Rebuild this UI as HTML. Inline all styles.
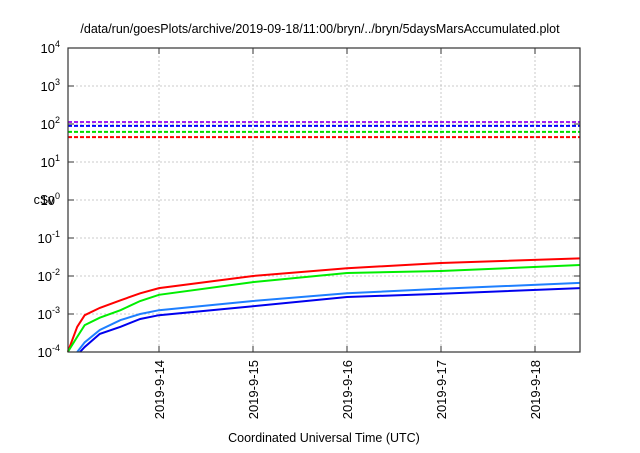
<!DOCTYPE html>
<html><head><meta charset="utf-8"><style>
body{margin:0;background:#fff;}
svg text{font-family:"Liberation Sans",sans-serif;fill:#000;}
</style></head><body>
<svg width="640" height="448">
<text x="320" y="33" font-size="12.5" text-anchor="middle">/data/run/goesPlots/archive/2019-09-18/11:00/bryn/../bryn/5daysMarsAccumulated.plot</text>
<g id="grid"></g>
<g id="marks"></g>
<rect x="68" y="48" width="512" height="304" fill="none" stroke="#333" stroke-width="1.2"/>
<g id="axes"></g>
<text x="44" y="204" font-size="12.5" text-anchor="middle">cSv</text>
<text x="324" y="442" font-size="12.5" text-anchor="middle">Coordinated Universal Time (UTC)</text>
</svg>
<script>
const yExponents=[-4,-3,-2,-1,0,1,2,3,4];
const xTickDays=[1,2,3,4,5];
const xTickLabels=["2019-9-14","2019-9-15","2019-9-16","2019-9-17","2019-9-18"];
const limitNames=["purple-limit","blue-limit","green-limit","red-limit"];
const limitValues=[113,89,62,45];
const limitColors=["#a020f0","#0000ff","#00dd00","#ff0000"];
const days=[0.03,0.13,0.21,0.37,0.59,0.80,1,2,3,4,5.48];
const redVals=[1e-4,4.6e-4,9.3e-4,0.00145,0.0023,0.0035,0.0048,0.010,0.016,0.022,0.029];
const greenVals=[1e-4,2.5e-4,5.1e-4,8e-4,0.00126,0.0022,0.0032,0.0069,0.012,0.0135,0.0195];
const lightBlueDays=[0.13,0.21,0.37,0.59,0.80,1,2,3,4,5.48];
const lightBlueVals=[1e-4,1.8e-4,3.8e-4,6.9e-4,0.001,0.00126,0.0022,0.0035,0.0046,0.0066];
const darkBlueDays=[0.16,0.21,0.37,0.59,0.80,1,2,3,4,5.48];
const darkBlueVals=[1e-4,1.35e-4,3e-4,4.6e-4,7.4e-4,0.00093,0.0016,0.0028,0.0034,0.0048];
const NS="http://www.w3.org/2000/svg";
const L=68,R=580,T=48,B=352;
const xs=d=>65+94*d;
const ys=v=>B-(Math.log10(v)+4)*38;
function mk(tag,attrs,parent){const e=document.createElementNS(NS,tag);for(const k in attrs)e.setAttribute(k,attrs[k]);document.getElementById(parent).appendChild(e);return e;}
yExponents.forEach(p=>{
  const y=ys(Math.pow(10,p));
  if(p>-4&&p<4){const g=mk('line',{x1:L,x2:R,y1:y,y2:y,stroke:'#bbb','stroke-dasharray':'2,2','stroke-width':0.8},'grid');
  
  }
  const t=mk('text',{x:60,y:y+5,'font-size':13,'text-anchor':'end'},'axes');
  
  
  t.textContent='10';
  const s=document.createElementNS(NS,'tspan');s.setAttribute('dy','-6');s.setAttribute('font-size','9');s.textContent=p;t.appendChild(s);
  const tk=mk('line',{x1:L,x2:L+6,y1:y,y2:y,stroke:'#333'},'axes');
  
  
  const tk2=mk('line',{x1:R-6,x2:R,y1:y,y2:y,stroke:'#333'},'axes');
  
  
});
xTickDays.forEach((d,i)=>{
  const x=xs(d);
  const g=mk('line',{x1:x,x2:x,y1:T,y2:B,stroke:'#bbb','stroke-dasharray':'2,2','stroke-width':0.8},'grid');
  
  
  const tk=mk('line',{x1:x,x2:x,y1:B-6,y2:B,stroke:'#333'},'axes');
  
  
  const tk2=mk('line',{x1:x,x2:x,y1:T,y2:T+6,stroke:'#333'},'axes');
  
  
  const t=mk('text',{x:x+5,y:360,'font-size':13,'text-anchor':'end',transform:`rotate(-90 ${x+5} 360)`},'axes');
  
  
  t.textContent=xTickLabels[i];
});
limitValues.forEach((v,i)=>{
  const y=ys(v);
  const l=mk('line',{x1:L,x2:R,y1:y,y2:y,stroke:limitColors[i],'stroke-width':2,'stroke-dasharray':'4,2'},'marks');
  
  
});
function series(dd,vv,color,name){
  const pts=dd.map((d,i)=>xs(d).toFixed(1)+','+ys(vv[i]).toFixed(1)).join(' ');
  const p=mk('polyline',{points:pts,fill:'none',stroke:color,'stroke-width':2},'marks');
  
  
}
series(days,redVals,'#ff0000','red-series');
series(days,greenVals,'#00ee00','green-series');
series(lightBlueDays,lightBlueVals,'#1e7fff','light-blue-series');
series(darkBlueDays,darkBlueVals,'#0000ee','dark-blue-series');
</script>
</body></html>
